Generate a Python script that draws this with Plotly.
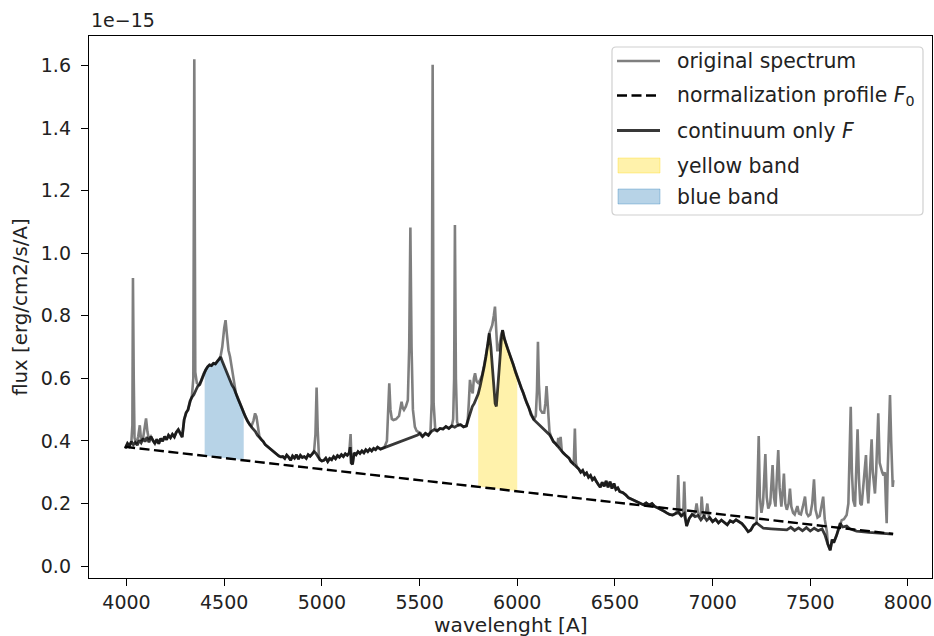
import numpy as np
import plotly.graph_objects as go

# ---------------- data (flux in units of 1e-15 erg/cm2/s/A) ----------------
wl_cont = [3993, 4005, 4015, 4025, 4035, 4045, 4055, 4065, 4075, 4085, 4095, 4105, 4115, 4125, 4135, 4145,
           4155, 4165, 4175, 4185, 4195, 4205, 4215, 4225, 4235, 4245, 4255, 4265, 4275, 4285, 4295, 4305,
           4315, 4325, 4335, 4345, 4355, 4365, 4375, 4385, 4395, 4405, 4415, 4425, 4435, 4445, 4455, 4465,
           4475, 4482, 4490, 4500, 4510, 4520, 4530, 4540, 4550, 4560, 4570, 4580, 4590, 4600, 4610, 4620,
           4630, 4640, 4650, 4660, 4670, 4680, 4690, 4700, 4710, 4720, 4730, 4740, 4750, 4760, 4770, 4780,
           4790, 4800, 4810, 4820, 4830, 4840, 4850, 4860, 4870, 4880, 4890, 4900, 4910, 4920, 4930, 4940,
           4950, 4960, 4970, 4980, 4990, 5000, 5010, 5020, 5030, 5040, 5050, 5060, 5070, 5080, 5090, 5100,
           5110, 5120, 5130, 5140, 5145, 5150, 5157, 5165, 5175, 5185, 5195, 5205, 5215, 5225, 5235, 5245,
           5255, 5265, 5275, 5285, 5300, 5490, 5500, 5515, 5530, 5545, 5560, 5575, 5590, 5605, 5620, 5635,
           5650, 5665, 5680, 5695, 5710, 5725, 5740, 5750, 5760, 5770, 5780, 5790, 5800, 5810, 5820, 5830,
           5840, 5850, 5857, 5865, 5872, 5880, 5887, 5893, 5900, 5910, 5918, 5925, 5932, 5940, 5950, 5960,
           5970, 5980, 5990, 6000, 6010, 6020, 6030, 6040, 6050, 6060, 6070, 6085, 6165, 6175, 6185, 6195,
           6205, 6215, 6225, 6235, 6245, 6255, 6265, 6275, 6285, 6295, 6305, 6315, 6325, 6335, 6345, 6355,
           6365, 6375, 6385, 6395, 6405, 6415, 6425, 6435, 6445, 6455, 6465, 6475, 6485, 6495, 6505, 6515,
           6525, 6540, 6555, 6570, 6585, 6600, 6615, 6630, 6645, 6660, 6675, 6690, 6705, 6720, 6735, 6750,
           6765, 6780, 6795, 6810, 6825, 6840, 6855, 6867, 6880, 6895, 6910, 6925, 6940, 6955, 6970, 6985,
           7000, 7015, 7030, 7045, 7060, 7075, 7090, 7105, 7120, 7135, 7150, 7165, 7182, 7195, 7210, 7225,
           7240, 7260, 7300, 7340, 7380, 7400, 7420, 7440, 7460, 7480, 7500, 7520, 7540, 7560, 7575, 7590,
           7602, 7612, 7620, 7635, 7645, 7653, 7665, 7686, 7700, 7737, 7800, 7860, 7924]
flux_cont = [0.376, 0.392, 0.384, 0.398, 0.388, 0.395, 0.386, 0.402, 0.394, 0.408, 0.398, 0.412, 0.396, 0.414, 0.401, 0.392,
             0.405, 0.391, 0.408, 0.399, 0.414, 0.404, 0.418, 0.410, 0.421, 0.413, 0.428, 0.436, 0.424, 0.412, 0.468, 0.490,
             0.500, 0.527, 0.540, 0.548, 0.562, 0.575, 0.580, 0.598, 0.615, 0.627, 0.637, 0.643, 0.641, 0.648, 0.646, 0.655,
             0.662, 0.668, 0.655, 0.640, 0.622, 0.605, 0.594, 0.578, 0.568, 0.552, 0.535, 0.522, 0.506, 0.490, 0.475, 0.463,
             0.452, 0.444, 0.437, 0.430, 0.418, 0.412, 0.404, 0.398, 0.388, 0.383, 0.378, 0.372, 0.366, 0.363, 0.358, 0.352,
             0.349, 0.350, 0.344, 0.355, 0.348, 0.338, 0.352, 0.345, 0.356, 0.342, 0.354, 0.347, 0.350, 0.344, 0.356, 0.351,
             0.358, 0.366, 0.360, 0.348, 0.340, 0.336, 0.338, 0.345, 0.334, 0.344, 0.340, 0.350, 0.343, 0.353, 0.348, 0.356,
             0.350, 0.359, 0.354, 0.362, 0.380, 0.330, 0.325, 0.362, 0.356, 0.366, 0.360, 0.368, 0.362, 0.372, 0.366, 0.374,
             0.368, 0.376, 0.372, 0.380, 0.374, 0.419, 0.424, 0.414, 0.424, 0.418, 0.430, 0.436, 0.432, 0.440, 0.438, 0.446,
             0.440, 0.448, 0.444, 0.450, 0.452, 0.445, 0.448, 0.470, 0.490, 0.510, 0.520, 0.535, 0.550, 0.575, 0.600, 0.635,
             0.670, 0.710, 0.744, 0.700, 0.640, 0.585, 0.520, 0.510, 0.560, 0.650, 0.720, 0.754, 0.730, 0.715, 0.695, 0.680,
             0.660, 0.645, 0.620, 0.605, 0.590, 0.570, 0.555, 0.535, 0.520, 0.505, 0.485, 0.468, 0.420, 0.410, 0.398, 0.392,
             0.384, 0.378, 0.370, 0.362, 0.356, 0.350, 0.345, 0.334, 0.328, 0.322, 0.318, 0.310, 0.300, 0.306, 0.292, 0.298,
             0.284, 0.290, 0.276, 0.282, 0.270, 0.260, 0.252, 0.268, 0.255, 0.272, 0.252, 0.270, 0.248, 0.264, 0.245, 0.250,
             0.238, 0.235, 0.228, 0.218, 0.214, 0.210, 0.205, 0.200, 0.196, 0.202, 0.195, 0.200, 0.190, 0.186, 0.182, 0.176,
             0.170, 0.165, 0.163, 0.168, 0.172, 0.160, 0.168, 0.128, 0.152, 0.165, 0.158, 0.162, 0.148, 0.160, 0.146, 0.155,
             0.142, 0.150, 0.138, 0.147, 0.140, 0.132, 0.145, 0.140, 0.148, 0.142, 0.136, 0.125, 0.110, 0.115, 0.131, 0.138,
             0.130, 0.121, 0.119, 0.117, 0.116, 0.124, 0.114, 0.122, 0.113, 0.123, 0.112, 0.121, 0.113, 0.119, 0.100, 0.070,
             0.051, 0.085, 0.075, 0.099, 0.120, 0.137, 0.125, 0.128, 0.120, 0.112, 0.108, 0.105, 0.102]

wl_orig = [3993, 4005, 4015, 4025, 4030, 4033, 4037, 4041, 4050, 4060, 4068, 4075, 4085, 4093, 4100, 4107,
           4115, 4125, 4135, 4145, 4155, 4165, 4175, 4185, 4195, 4205, 4215, 4225, 4235, 4245, 4255, 4265,
           4275, 4285, 4295, 4305, 4315, 4325, 4335, 4342, 4347, 4352, 4360, 4370, 4380, 4395, 4405, 4415,
           4425, 4435, 4445, 4455, 4465, 4475, 4482, 4490, 4500, 4507, 4514, 4522, 4530, 4540, 4550, 4560,
           4570, 4580, 4590, 4600, 4610, 4620, 4630, 4640, 4650, 4658, 4665, 4672, 4680, 4690, 4700, 4710,
           4720, 4730, 4740, 4750, 4760, 4770, 4780, 4790, 4800, 4810, 4820, 4830, 4840, 4850, 4860, 4870,
           4880, 4890, 4900, 4910, 4920, 4930, 4940, 4950, 4960, 4967, 4973, 4979, 4985, 4990, 5000, 5010,
           5020, 5030, 5040, 5050, 5060, 5070, 5080, 5090, 5100, 5110, 5120, 5130, 5140, 5147, 5152, 5157,
           5165, 5175, 5185, 5195, 5205, 5215, 5225, 5235, 5245, 5255, 5265, 5275, 5285, 5300, 5320, 5333,
           5340, 5345, 5351, 5358, 5366, 5380, 5395, 5408, 5414, 5420, 5430, 5440, 5447, 5453, 5459, 5466,
           5476, 5485, 5495, 5505, 5515, 5530, 5545, 5556, 5562, 5567, 5572, 5580, 5590, 5605, 5620, 5635,
           5650, 5665, 5672, 5677, 5681, 5686, 5692, 5700, 5710, 5725, 5740, 5747, 5752, 5758, 5765, 5772,
           5778, 5784, 5792, 5800, 5810, 5820, 5830, 5840, 5850, 5857, 5865, 5872, 5880, 5886, 5892, 5898,
           5905, 5912, 5918, 5925, 5932, 5940, 5950, 5960, 5970, 5980, 5990, 6000, 6010, 6020, 6030, 6040,
           6050, 6060, 6070, 6085, 6095, 6101, 6106, 6111, 6118, 6128, 6138, 6144, 6150, 6156, 6165, 6175,
           6185, 6195, 6205, 6210, 6216, 6222, 6228, 6235, 6245, 6255, 6265, 6275, 6285, 6290, 6295, 6300,
           6305, 6315, 6325, 6335, 6345, 6355, 6365, 6375, 6385, 6395, 6405, 6415, 6425, 6435, 6445, 6455,
           6465, 6475, 6485, 6495, 6505, 6515, 6525, 6540, 6555, 6570, 6585, 6600, 6615, 6630, 6645, 6660,
           6675, 6690, 6705, 6720, 6735, 6750, 6765, 6780, 6795, 6810, 6818, 6824, 6830, 6840, 6850, 6855,
           6861, 6867, 6880, 6895, 6905, 6912, 6918, 6925, 6935, 6940, 6944, 6950, 6958, 6966, 6973, 6980,
           6985, 7000, 7015, 7030, 7045, 7060, 7075, 7090, 7105, 7120, 7135, 7150, 7165, 7182, 7195, 7210,
           7225, 7230, 7236, 7242, 7250, 7258, 7264, 7270, 7277, 7285, 7295, 7301, 7307, 7314, 7322, 7330,
           7336, 7343, 7352, 7359, 7365, 7372, 7380, 7389, 7396, 7403, 7412, 7420, 7428, 7434, 7442, 7452,
           7462, 7473, 7481, 7490, 7500, 7510, 7519, 7527, 7537, 7548, 7557, 7566, 7574, 7585, 7590, 7602,
           7612, 7620, 7635, 7645, 7653, 7661, 7672, 7686, 7695, 7701, 7707, 7713, 7720, 7729, 7736, 7742,
           7749, 7756, 7763, 7771, 7778, 7785, 7791, 7797, 7803, 7809, 7814, 7820, 7826, 7831, 7837, 7843,
           7848, 7855, 7862, 7868, 7875, 7882, 7887, 7891, 7896, 7902, 7908, 7914, 7918, 7922, 7925]
flux_orig = [0.376, 0.392, 0.384, 0.398, 0.450, 0.921, 0.600, 0.410, 0.390, 0.415, 0.450, 0.400, 0.410, 0.440, 0.472, 0.430,
             0.405, 0.414, 0.401, 0.392, 0.405, 0.391, 0.408, 0.399, 0.414, 0.404, 0.418, 0.410, 0.421, 0.413, 0.428, 0.436,
             0.424, 0.412, 0.468, 0.490, 0.500, 0.527, 0.545, 0.600, 1.620, 0.620, 0.585, 0.580, 0.590, 0.615, 0.627, 0.637,
             0.643, 0.641, 0.648, 0.646, 0.655, 0.662, 0.672, 0.700, 0.760, 0.786, 0.740, 0.690, 0.669, 0.625, 0.580, 0.552,
             0.535, 0.522, 0.506, 0.490, 0.475, 0.463, 0.452, 0.448, 0.465, 0.488, 0.478, 0.440, 0.415, 0.404, 0.398, 0.388,
             0.383, 0.378, 0.372, 0.366, 0.363, 0.358, 0.352, 0.349, 0.350, 0.344, 0.355, 0.348, 0.338, 0.352, 0.345, 0.356,
             0.342, 0.354, 0.347, 0.350, 0.344, 0.356, 0.351, 0.358, 0.366, 0.420, 0.571, 0.430, 0.350, 0.340, 0.336, 0.338,
             0.345, 0.334, 0.344, 0.340, 0.350, 0.343, 0.353, 0.348, 0.356, 0.350, 0.359, 0.354, 0.362, 0.422, 0.330, 0.325,
             0.362, 0.356, 0.366, 0.360, 0.368, 0.362, 0.372, 0.366, 0.374, 0.368, 0.376, 0.372, 0.380, 0.374, 0.380, 0.400,
             0.500, 0.584, 0.500, 0.470, 0.467, 0.470, 0.480, 0.525, 0.505, 0.499, 0.510, 0.530, 0.700, 1.082, 0.700, 0.500,
             0.445, 0.432, 0.428, 0.425, 0.414, 0.424, 0.418, 0.430, 0.520, 1.602, 0.520, 0.440, 0.432, 0.440, 0.438, 0.446,
             0.440, 0.448, 0.470, 0.600, 1.090, 0.600, 0.460, 0.450, 0.452, 0.445, 0.448, 0.470, 0.520, 0.595, 0.565, 0.552,
             0.600, 0.616, 0.590, 0.585, 0.595, 0.610, 0.640, 0.670, 0.710, 0.744, 0.760, 0.770, 0.800, 0.829, 0.760, 0.690,
             0.690, 0.720, 0.740, 0.754, 0.730, 0.715, 0.695, 0.680, 0.660, 0.645, 0.620, 0.605, 0.590, 0.570, 0.555, 0.535,
             0.520, 0.505, 0.485, 0.468, 0.480, 0.560, 0.717, 0.580, 0.500, 0.490, 0.490, 0.520, 0.575, 0.500, 0.430, 0.410,
             0.398, 0.392, 0.384, 0.410, 0.378, 0.413, 0.368, 0.362, 0.356, 0.350, 0.345, 0.334, 0.328, 0.340, 0.440, 0.330,
             0.318, 0.310, 0.300, 0.306, 0.292, 0.298, 0.284, 0.290, 0.276, 0.282, 0.270, 0.260, 0.252, 0.268, 0.255, 0.272,
             0.252, 0.270, 0.248, 0.264, 0.245, 0.250, 0.238, 0.235, 0.228, 0.218, 0.214, 0.210, 0.205, 0.200, 0.196, 0.202,
             0.195, 0.200, 0.190, 0.186, 0.182, 0.176, 0.170, 0.165, 0.163, 0.168, 0.175, 0.291, 0.170, 0.160, 0.172, 0.270,
             0.160, 0.128, 0.152, 0.165, 0.165, 0.175, 0.200, 0.170, 0.160, 0.170, 0.222, 0.170, 0.160, 0.170, 0.200, 0.160,
             0.155, 0.142, 0.150, 0.138, 0.147, 0.140, 0.132, 0.145, 0.140, 0.148, 0.142, 0.136, 0.125, 0.110, 0.115, 0.131,
             0.138, 0.260, 0.416, 0.220, 0.170, 0.200, 0.300, 0.358, 0.220, 0.184, 0.200, 0.280, 0.323, 0.220, 0.190, 0.300,
             0.371, 0.250, 0.190, 0.240, 0.296, 0.200, 0.180, 0.200, 0.248, 0.190, 0.170, 0.165, 0.180, 0.192, 0.168, 0.165,
             0.190, 0.222, 0.170, 0.160, 0.165, 0.200, 0.277, 0.180, 0.155, 0.160, 0.190, 0.222, 0.150, 0.110, 0.070, 0.051,
             0.085, 0.075, 0.099, 0.120, 0.137, 0.147, 0.150, 0.163, 0.200, 0.350, 0.509, 0.300, 0.210, 0.190, 0.300, 0.437,
             0.280, 0.200, 0.195, 0.250, 0.300, 0.355, 0.250, 0.200, 0.270, 0.350, 0.405, 0.300, 0.250, 0.232, 0.300, 0.400,
             0.488, 0.330, 0.307, 0.300, 0.290, 0.300, 0.200, 0.137, 0.300, 0.450, 0.547, 0.400, 0.280, 0.253, 0.275]

wl_prof = [3993, 5000, 6000, 7000, 7924]
flux_prof = [0.381, 0.310, 0.240, 0.168, 0.103]

yellow_band = [5800, 6000]
blue_band = [4400, 4600]

x_ticks = [4000, 4500, 5000, 5500, 6000, 6500, 7000, 7500, 8000]
y_ticks = [0.0, 0.2, 0.4, 0.6, 0.8, 1.0, 1.2, 1.4, 1.6]

legend_labels = ["original spectrum", "normalization profile <i>F</i><sub>0</sub>",
                 "continuum only <i>F</i>", "yellow band", "blue band"]

assert len(wl_cont) == len(flux_cont), (len(wl_cont), len(flux_cont))
assert len(wl_orig) == len(flux_orig), (len(wl_orig), len(flux_orig))

# ---------------- styling ----------------
FONT = "DejaVu Sans"
TXT = "#222222"
C_ORIG = "rgba(0,0,0,0.5)"
C_CONT = "rgba(0,0,0,0.78)"
C_YELLOW = "rgba(255,215,0,0.33)"
C_BLUE = "rgba(31,119,180,0.32)"
DASH = "10px,4.5px"

# plot-area geometry in pixels (used for the hand-placed legend box)
PL, PR, PT, PB = 89, 932, 36, 578


def px_x(px):
    return (px - PL) / (PR - PL)


def px_y(py):
    return (PB - py) / (PB - PT)


def band_polygon(lo, hi):
    wc = np.array(wl_cont, dtype=float)
    fc = np.array(flux_cont, dtype=float)
    inner = wc[(wc > lo) & (wc < hi)]
    xs = np.concatenate([[lo], inner, [hi]])
    top = np.interp(xs, wc, fc)
    bot = np.interp(xs, wl_prof, flux_prof)
    return np.concatenate([xs, xs[::-1]]), np.concatenate([top, bot[::-1]])


fig = go.Figure()

yx, yy = band_polygon(*yellow_band)
fig.add_trace(go.Scatter(x=yx, y=yy, fill="toself", mode="lines", line=dict(width=0),
                         fillcolor=C_YELLOW, name="yellow band", showlegend=False, hoverinfo="skip"))
bx, by = band_polygon(*blue_band)
fig.add_trace(go.Scatter(x=bx, y=by, fill="toself", mode="lines", line=dict(width=0),
                         fillcolor=C_BLUE, name="blue band", showlegend=False, hoverinfo="skip"))
fig.add_trace(go.Scatter(x=wl_orig, y=flux_orig, mode="lines", line=dict(color=C_ORIG, width=2.6),
                         name="original spectrum", showlegend=False))
fig.add_trace(go.Scatter(x=wl_prof, y=flux_prof, mode="lines",
                         line=dict(color="black", width=2.4, dash=DASH),
                         name="normalization profile", showlegend=False))
fig.add_trace(go.Scatter(x=wl_cont, y=flux_cont, mode="lines", line=dict(color=C_CONT, width=2.8),
                         name="continuum only", showlegend=False))

axis_common = dict(showline=True, linecolor="black", linewidth=1.3, mirror=True,
                   ticks="outside", ticklen=7, tickwidth=1.3, tickcolor="black",
                   showgrid=False, zeroline=False,
                   tickfont=dict(family=FONT, size=19, color=TXT))

fig.update_xaxes(range=[3808, 8123], tickvals=x_ticks, ticktext=[str(v) for v in x_ticks],
                 **axis_common)
# trailing no-break space widens the gap between y tick labels and ticks (matplotlib look)
fig.update_yaxes(range=[-0.038, 1.694], tickvals=y_ticks,
                 ticktext=[f"{v:.1f}\u00a0" for v in y_ticks], **axis_common)

# ---------------- hand-drawn legend (matplotlib style) ----------------
shapes = []
bx0, bx1, by0, by1, r = 612, 923, 47, 215, 4
rx, ry = r / (PR - PL), r / (PB - PT)
X0, X1, Y0, Y1 = px_x(bx0), px_x(bx1), px_y(by1), px_y(by0)
path = (f"M{X0 + rx},{Y0} L{X1 - rx},{Y0} Q{X1},{Y0} {X1},{Y0 + ry} "
        f"L{X1},{Y1 - ry} Q{X1},{Y1} {X1 - rx},{Y1} L{X0 + rx},{Y1} Q{X0},{Y1} {X0},{Y1 - ry} "
        f"L{X0},{Y0 + ry} Q{X0},{Y0} {X0 + rx},{Y0} Z")
shapes.append(dict(type="path", xref="paper", yref="paper", path=path,
                   fillcolor="rgba(255,255,255,0.8)", line=dict(color="#d0d0d0", width=1.2), layer="above"))

row_y = [61, 95.5, 130.5, 165.5, 196.5]
hx0, hx1 = 617, 660
shapes.append(dict(type="line", xref="paper", yref="paper", x0=px_x(hx0), x1=px_x(hx1),
                   y0=px_y(row_y[0]), y1=px_y(row_y[0]), line=dict(color=C_ORIG, width=2.6), layer="above"))
shapes.append(dict(type="line", xref="paper", yref="paper", x0=px_x(hx0), x1=px_x(hx1),
                   y0=px_y(row_y[1]), y1=px_y(row_y[1]), line=dict(color="black", width=2.4, dash=DASH),
                   layer="above"))
shapes.append(dict(type="line", xref="paper", yref="paper", x0=px_x(hx0), x1=px_x(hx1),
                   y0=px_y(row_y[2]), y1=px_y(row_y[2]), line=dict(color=C_CONT, width=2.8), layer="above"))
for yc, col in ((row_y[3], C_YELLOW), (row_y[4], C_BLUE)):
    shapes.append(dict(type="rect", xref="paper", yref="paper", x0=px_x(618), x1=px_x(660),
                       y0=px_y(yc + 7.5), y1=px_y(yc - 7.5), fillcolor=col,
                       line=dict(color=col, width=1), layer="above"))

annotations = []
for lab, yc in zip(legend_labels, row_y):
    annotations.append(dict(text=lab, xref="paper", yref="paper", x=px_x(675), y=px_y(yc),
                            xanchor="left", yanchor="middle", showarrow=False,
                            font=dict(family=FONT, size=20.4, color=TXT)))

annotations += [
    dict(text="1e\u221215", xref="paper", yref="paper", x=0, y=1.03, xanchor="left",
         yanchor="middle", showarrow=False, font=dict(family=FONT, size=19, color=TXT)),
    dict(text="wavelenght [A]", xref="paper", yref="paper", x=0.5, y=-0.087,
         xanchor="center", yanchor="middle", showarrow=False,
         font=dict(family=FONT, size=20.2, color=TXT)),
    dict(text="flux [erg/cm2/s/A]", xref="paper", yref="paper", x=-0.082, y=0.5,
         xanchor="center", yanchor="middle", textangle=-90, showarrow=False,
         font=dict(family=FONT, size=19.8, color=TXT)),
]

fig.update_layout(
    width=934, height=636,
    margin=dict(l=PL, r=934 - PR, t=PT, b=636 - PB),
    paper_bgcolor="white", plot_bgcolor="white",
    font=dict(family=FONT, size=19, color=TXT),
    showlegend=False,
    shapes=shapes,
    annotations=annotations,
)

fig.write_html("out.html")
